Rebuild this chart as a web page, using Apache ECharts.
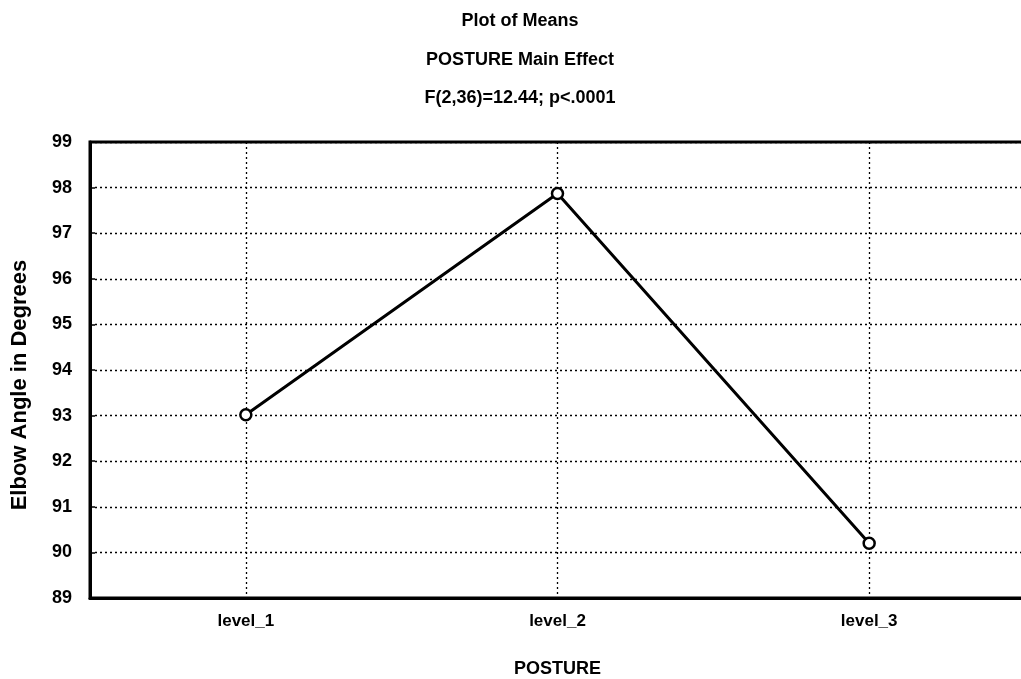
<!DOCTYPE html>
<html>
<head>
<meta charset="utf-8">
<script src="https://cdn.jsdelivr.net/npm/echarts@6/dist/echarts.min.js"></script>
<style>
  html, body { margin: 0; padding: 0; background: #fff; }
  #chart { width: 1021px; height: 679px; }
</style>
</head>
<body>
<div id="chart"></div>
<script>
const titleLines = ['Plot of Means', 'POSTURE Main Effect', 'F(2,36)=12.44; p<.0001'];
const categories = ['level_1', 'level_2', 'level_3'];
const means = [93.02, 97.87, 90.2];
const yMin = 89, yMax = 99, yStep = 1;
const xName = 'POSTURE';
const yName = 'Elbow Angle in Degrees';

const FONT = '"Liberation Sans", Arial, Helvetica, sans-serif';
const titleTop = [12, 51, 89];

const chart = echarts.init(document.getElementById('chart'), null, { renderer: 'canvas' });
chart.setOption({
  backgroundColor: '#fff',
  animation: false,
  title: titleLines.map((t, i) => ({
    text: t,
    left: 520,
    top: titleTop[i],
    textAlign: 'center',
    padding: 0,
    textStyle: { fontFamily: FONT, fontSize: 18, fontWeight: 'bold', color: '#000' }
  })),
  grid: {
    left: 90, right: -4, top: 142, bottom: 81,
    show: true, borderColor: '#000', borderWidth: 3, backgroundColor: '#fff',
    containLabel: false,
    outerBoundsMode: 'none'
  },
  xAxis: {
    type: 'category',
    data: categories,
    boundaryGap: true,
    name: xName,
    nameLocation: 'middle',
    nameGap: 62,
    nameTextStyle: { fontFamily: FONT, fontSize: 18, fontWeight: 'bold', color: '#000' },
    axisLine: { show: true, lineStyle: { color: '#000', width: 3 } },
    axisTick: { show: false },
    axisLabel: { margin: 15, fontFamily: FONT, fontSize: 17, fontWeight: 'bold', color: '#000' },
    splitLine: { show: true, alignWithLabel: true, lineStyle: { color: '#000', width: 1.3, type: [2, 3] } }
  },
  yAxis: {
    type: 'value',
    min: yMin, max: yMax, interval: yStep,
    name: yName,
    nameLocation: 'middle',
    nameGap: 59,
    nameTextStyle: { fontFamily: FONT, fontSize: 22, fontWeight: 'bold', color: '#000', padding: [0, 30, 0, 0] },
    axisLine: { show: true, lineStyle: { color: '#000', width: 3 } },
    axisTick: { show: true, inside: true, length: 5, lineStyle: { color: '#000', width: 1.5 } },
    axisLabel: { margin: 18, fontFamily: FONT, fontSize: 18, fontWeight: 'bold', color: '#000' },
    splitLine: { show: true, lineStyle: { color: '#000', width: 1.3, type: [2, 3] } }
  },
  series: [{
    type: 'line',
    data: means,
    symbol: 'circle',
    symbolSize: 11,
    lineStyle: { color: '#000', width: 3 },
    itemStyle: { color: '#fff', borderColor: '#000', borderWidth: 2.5 },
    z: 5
  }]
});
</script>
</body>
</html>
